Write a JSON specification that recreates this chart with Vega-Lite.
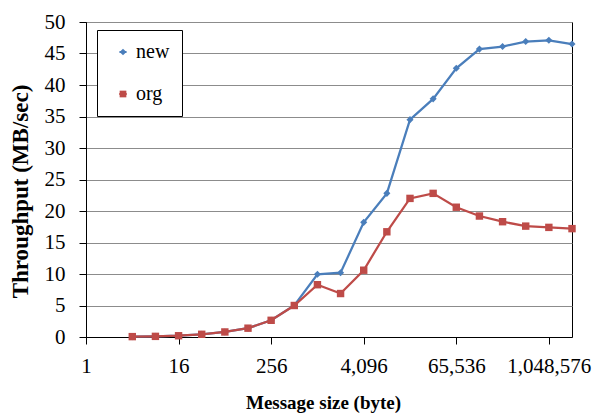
{
  "$schema": "https://vega.github.io/schema/vega-lite/v6.json",
  "width": 486,
  "height": 315,
  "autosize": {"type": "none"},
  "padding": {"left": 86, "top": 22, "right": 25, "bottom": 77},
  "background": "white",
  "config": {
    "view": {"stroke": "black", "strokeWidth": 1},
    "font": "Liberation Serif",
    "axis": {
      "labelFont": "Liberation Serif",
      "labelFontSize": 21,
      "labelColor": "black",
      "titleFont": "Liberation Serif",
      "titleColor": "black",
      "titleFontWeight": "bold",
      "domainColor": "black",
      "domainWidth": 1,
      "tickColor": "black",
      "tickSize": 7,
      "tickWidth": 1,
      "gridColor": "#8c8c8c",
      "gridWidth": 1
    },
    "legend": {
      "labelFont": "Liberation Serif",
      "labelFontSize": 20,
      "labelColor": "black"
    }
  },
  "data": {
    "values": [
      {"size": 4, "series": "new", "tp": 0.06},
      {"size": 8, "series": "new", "tp": 0.1},
      {"size": 16, "series": "new", "tp": 0.2},
      {"size": 32, "series": "new", "tp": 0.43},
      {"size": 64, "series": "new", "tp": 0.8},
      {"size": 128, "series": "new", "tp": 1.4},
      {"size": 256, "series": "new", "tp": 2.65},
      {"size": 512, "series": "new", "tp": 5.0},
      {"size": 1024, "series": "new", "tp": 9.95},
      {"size": 2048, "series": "new", "tp": 10.2},
      {"size": 4096, "series": "new", "tp": 18.2},
      {"size": 8192, "series": "new", "tp": 22.8},
      {"size": 16384, "series": "new", "tp": 34.5},
      {"size": 32768, "series": "new", "tp": 37.8},
      {"size": 65536, "series": "new", "tp": 42.65},
      {"size": 131072, "series": "new", "tp": 45.7},
      {"size": 262144, "series": "new", "tp": 46.1},
      {"size": 524288, "series": "new", "tp": 46.9},
      {"size": 1048576, "series": "new", "tp": 47.1},
      {"size": 2097152, "series": "new", "tp": 46.5},
      {"size": 4, "series": "org", "tp": 0.06},
      {"size": 8, "series": "org", "tp": 0.1},
      {"size": 16, "series": "org", "tp": 0.2},
      {"size": 32, "series": "org", "tp": 0.43},
      {"size": 64, "series": "org", "tp": 0.8},
      {"size": 128, "series": "org", "tp": 1.4},
      {"size": 256, "series": "org", "tp": 2.65},
      {"size": 512, "series": "org", "tp": 5.0},
      {"size": 1024, "series": "org", "tp": 8.3},
      {"size": 2048, "series": "org", "tp": 6.9},
      {"size": 4096, "series": "org", "tp": 10.6},
      {"size": 8192, "series": "org", "tp": 16.7},
      {"size": 16384, "series": "org", "tp": 22.0},
      {"size": 32768, "series": "org", "tp": 22.8},
      {"size": 65536, "series": "org", "tp": 20.6},
      {"size": 131072, "series": "org", "tp": 19.2},
      {"size": 262144, "series": "org", "tp": 18.3},
      {"size": 524288, "series": "org", "tp": 17.6},
      {"size": 1048576, "series": "org", "tp": 17.4},
      {"size": 2097152, "series": "org", "tp": 17.2}
    ]
  },
  "encoding": {
    "x": {
      "field": "size",
      "type": "quantitative",
      "scale": {"type": "log", "base": 2, "domain": [1, 2097152], "nice": false},
      "axis": {
        "title": "Message size (byte)",
        "titleFontSize": 19,
        "titleX": 237,
        "titlePadding": 17,
        "values": [1, 16, 256, 4096, 65536, 1048576],
        "format": ",",
        "labelPadding": 11,
        "labelFlush": false,
        "labelOverlap": false,
        "grid": false
      }
    },
    "y": {
      "field": "tp",
      "type": "quantitative",
      "scale": {"domain": [0, 50], "nice": false},
      "axis": {
        "title": "Throughput (MB/sec)",
        "titleFontSize": 23,
        "titleX": -59,
        "titleY": 169,
        "titleBaseline": "alphabetic",
        "values": [0, 5, 10, 15, 20, 25, 30, 35, 40, 45, 50],
        "labelPadding": 14,
        "grid": true
      }
    }
  },
  "layer": [
    {
      "mark": {"type": "line", "strokeWidth": 2.25},
      "encoding": {
        "stroke": {
          "field": "series",
          "type": "nominal",
          "scale": {"domain": ["new", "org"], "range": ["#4A7EBB", "#BE4B48"]},
          "legend": {
            "title": null,
            "orient": "none",
            "legendX": 11,
            "legendY": 8,
            "padding": 12,
            "rowPadding": 22,
            "strokeColor": "black",
            "fillColor": "white",
            "symbolType": "stroke",
            "symbolSize": 324,
            "symbolStrokeWidth": 2,
            "symbolOffset": 4,
            "labelOffset": 3
          }
        }
      }
    },
    {
      "mark": {"type": "point", "filled": true, "opacity": 1},
      "encoding": {
        "color": {
          "field": "series",
          "type": "nominal",
          "scale": {"range": ["#4A7EBB", "#BE4B48"]},
          "legend": {
            "title": null,
            "orient": "none",
            "legendX": 11,
            "legendY": 8,
            "padding": 12,
            "rowPadding": 22,
            "symbolSize": 45,
            "symbolOffset": 4,
            "labelOffset": 3,
            "labelColor": "transparent"
          }
        },
        "shape": {
          "field": "series",
          "type": "nominal",
          "scale": {"range": ["diamond", "square"]},
          "legend": null
        },
        "size": {
          "field": "series",
          "type": "nominal",
          "scale": {"domain": ["new", "org"], "range": [50, 55]},
          "legend": null
        }
      }
    }
  ]
}
